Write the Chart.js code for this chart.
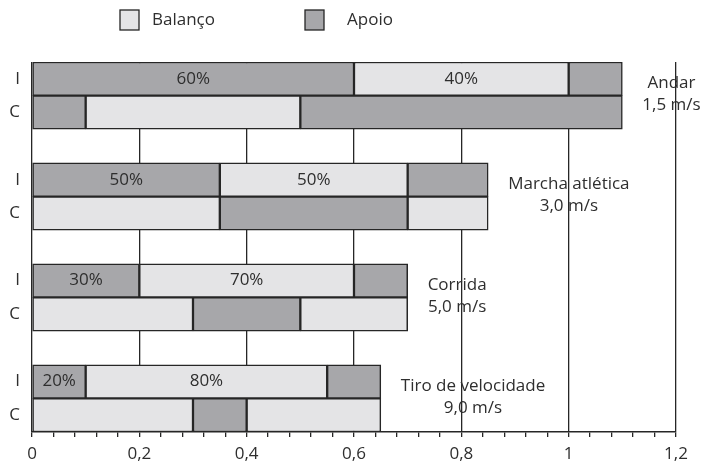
<!DOCTYPE html>
<html>
<head>
<meta charset="utf-8">
<script src="https://cdn.jsdelivr.net/npm/chart.js@4"></script>
<style>
  body { margin: 0; background: #fff; }
</style>
</head>
<body>
<canvas id="myChart" width="708" height="466"></canvas>
<script>
// rows: I = ipsilateral, C = contralateral, '' = gap between groups
let rowLabels = ['I', 'C', '', 'I', 'C', '', 'I', 'C', '', 'I', 'C'];

// floating segments [start, end] per row
let balancoA = [[0.6, 1.0], [0.1, 0.5], null, [0.35, 0.7], [0, 0.35], null, [0.2, 0.6], [0, 0.3], null, [0.1, 0.55], [0, 0.3]];
let balancoB = [null, null, null, null, [0.7, 0.85], null, null, [0.5, 0.7], null, null, [0.4, 0.65]];
let apoioA = [[0, 0.6], [0, 0.1], null, [0, 0.35], [0.35, 0.7], null, [0, 0.2], [0.3, 0.5], null, [0, 0.1], [0.3, 0.4]];
let apoioB = [[1.0, 1.1], [0.5, 1.1], null, [0.7, 0.85], null, null, [0.6, 0.7], null, null, [0.55, 0.65], null];

let balancoPct = ['40%', null, null, '50%', null, null, '70%', null, null, '80%', null];
let apoioPct = ['60%', null, null, '50%', null, null, '30%', null, null, '20%', null];

let groupNames = ['Andar', 'Marcha atlética', 'Corrida', 'Tiro de velocidade'];
let groupSpeeds = ['1,5 m/s', '3,0 m/s', '5,0 m/s', '9,0 m/s'];
let groupRows = [0, 3, 6, 9];

let xTickLabels = ['0', '0,2', '0,4', '0,6', '0,8', '1', '1,2'];

let balancoColor = '#e4e4e6';
let apoioColor = '#a7a7aa';
let lineColor = '#262626';
let textColor = '#2e2e2e';
let font = '"Open Sans", sans-serif';

function isMajor(v) {
    let k = v / 0.2;
    return Math.abs(k - Math.round(k)) < 1e-6;
}

function segment(label, data, color, pct) {
    return {
        label: label,
        data: data,
        pct: pct,
        backgroundColor: color,
        borderColor: lineColor,
        borderWidth: 1.5,
        borderSkipped: false,
        grouped: false,
        barPercentage: 1,
        categoryPercentage: 1
    };
}

// percent labels + group names
let textPlugin = {
    id: 'texts',
    afterDatasetsDraw(chart) {
        let ctx = chart.ctx;
        ctx.save();
        ctx.fillStyle = textColor;
        ctx.font = '17px ' + font;
        ctx.textAlign = 'center';
        ctx.textBaseline = 'middle';
        chart.data.datasets.forEach((ds, di) => {
            if (!ds.pct) return;
            let meta = chart.getDatasetMeta(di);
            ds.pct.forEach((t, i) => {
                if (!t) return;
                let p = meta.data[i].getCenterPoint();
                ctx.fillText(t, p.x, p.y);
            });
        });

        let xs = chart.scales.x, ys = chart.scales.y;
        groupNames.forEach((name, g) => {
            let r = groupRows[g];
            let end = 0;
            [balancoA, balancoB, apoioA, apoioB].forEach(arr => {
                [arr[r], arr[r + 1]].forEach(s => { if (s) end = Math.max(end, s[1]); });
            });
            let w = Math.max(ctx.measureText(name).width, ctx.measureText(groupSpeeds[g]).width);
            let cx = xs.getPixelForValue(end) + 20 + w / 2;
            let cy = (ys.getPixelForValue(r) + ys.getPixelForValue(r + 1)) / 2;
            ctx.fillText(name, cx, cy - 12);
            ctx.fillText(groupSpeeds[g], cx, cy + 10);
        });
        ctx.restore();
    },
    afterDraw(chart) {
        // legend on top
        let ctx = chart.ctx;
        ctx.save();
        ctx.font = '17px ' + font;
        ctx.textBaseline = 'middle';
        ctx.textAlign = 'left';
        let items = [
            { text: chart.data.datasets[0].label, color: balancoColor, box: 120, tx: 152 },
            { text: chart.data.datasets[2].label, color: apoioColor, box: 305, tx: 347 }
        ];
        items.forEach(it => {
            ctx.fillStyle = it.color;
            ctx.fillRect(it.box, 10, 19, 20);
            ctx.strokeStyle = lineColor;
            ctx.lineWidth = 1.3;
            ctx.strokeRect(it.box, 10, 19, 20);
            ctx.fillStyle = textColor;
            ctx.fillText(it.text, it.tx, 20);
        });
        ctx.restore();
    }
};

let ctx = document.getElementById('myChart').getContext('2d');
let myChart = new Chart(ctx, {
    type: 'bar',
    data: {
        labels: rowLabels,
        datasets: [
            segment('Balanço', balancoA, balancoColor, balancoPct),
            segment('Balanço', balancoB, balancoColor, null),
            segment('Apoio', apoioA, apoioColor, apoioPct),
            segment('Apoio', apoioB, apoioColor, null)
        ]
    },
    options: {
        indexAxis: 'y',
        responsive: false,
        animation: false,
        layout: { padding: { top: 62, right: 32, left: 0, bottom: 0 } },
        plugins: {
            legend: { display: false },
            tooltip: { enabled: false }
        },
        scales: {
            x: {
                type: 'linear',
                min: 0,
                max: 1.2,
                afterFit(scale) { scale.height = 34; },
                border: { display: true, color: lineColor, width: 1.5 },
                grid: {
                    color: c => isMajor(c.tick.value) ? lineColor : 'rgba(0,0,0,0)',
                    lineWidth: 1.3,
                    tickColor: lineColor,
                    tickLength: 5,
                    drawTicks: true
                },
                ticks: {
                    stepSize: 0.04,
                    autoSkip: false,
                    maxRotation: 0,
                    padding: 7,
                    color: textColor,
                    font: { family: font, size: 17 },
                    callback: v => isMajor(v) ? xTickLabels[Math.round(v / 0.2)] : ''
                }
            },
            y: {
                type: 'category',
                afterFit(scale) { scale.width = 32; },
                border: { display: false },
                grid: { display: false, drawTicks: false },
                ticks: {
                    padding: 12,
                    color: textColor,
                    font: { family: font, size: 17 }
                }
            }
        }
    },
    plugins: [textPlugin]
});
</script>
</body>
</html>
